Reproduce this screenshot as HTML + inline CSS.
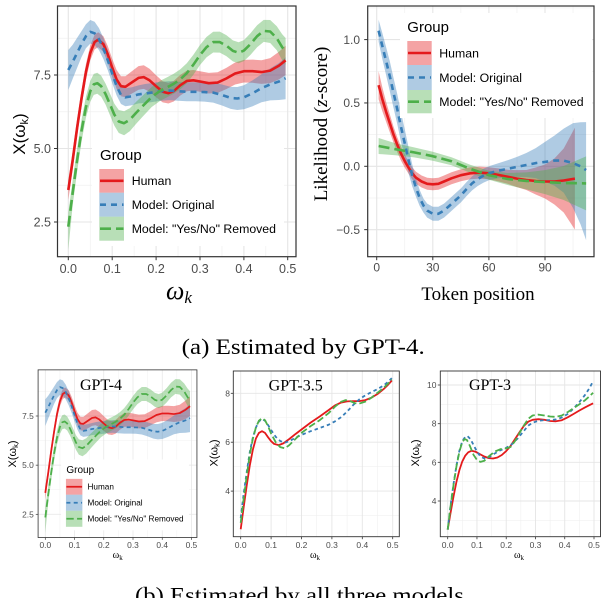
<!DOCTYPE html>
<html><head><meta charset="utf-8"><style>
html,body{margin:0;padding:0;background:#fff;}
svg{display:block;}
.sans{font-family:"Liberation Sans",Arial,sans-serif;}
.serif{font-family:"Liberation Serif","Times New Roman",serif;}
.tk{fill:#4D4D4D;font-family:"Liberation Sans",Arial,sans-serif;}
</style></head><body>
<svg width="602" height="598" viewBox="0 0 602 598" xmlns="http://www.w3.org/2000/svg" xmlns:xlink="http://www.w3.org/1999/xlink">
<rect x="0" y="0" width="602" height="598" fill="#fff"/>

<!-- ============ TOP-LEFT PANEL GRAPHICS ============ -->
<g id="tlg">
  <g stroke="#F0F0F0" stroke-width="0.7" fill="none">
    <line x1="57.5" x2="296" y1="38.25" y2="38.25"/><line x1="57.5" x2="296" y1="111.75" y2="111.75"/><line x1="57.5" x2="296" y1="185.25" y2="185.25"/>
    <line y1="6" y2="256.7" x1="90.25" x2="90.25"/><line y1="6" y2="256.7" x1="134.15" x2="134.15"/><line y1="6" y2="256.7" x1="178.05" x2="178.05"/><line y1="6" y2="256.7" x1="221.95" x2="221.95"/><line y1="6" y2="256.7" x1="265.8" x2="265.8"/>
  </g>
  <g stroke="#E5E5E5" stroke-width="1.1" fill="none">
    <line x1="57.5" x2="296" y1="75" y2="75"/><line x1="57.5" x2="296" y1="148.5" y2="148.5"/><line x1="57.5" x2="296" y1="222" y2="222"/>
    <line y1="6" y2="256.7" x1="68.3" x2="68.3"/><line y1="6" y2="256.7" x1="112.2" x2="112.2"/><line y1="6" y2="256.7" x1="156.1" x2="156.1"/><line y1="6" y2="256.7" x1="200" x2="200"/><line y1="6" y2="256.7" x1="243.9" x2="243.9"/><line y1="6" y2="256.7" x1="287.7" x2="287.7"/>
  </g>
  <polygon fill="#E41A1C" fill-opacity="0.4" points="68.3,180.0 72.7,150.8 77.1,118.9 81.5,90.0 85.9,64.1 90.3,45.4 94.6,34.7 98.2,32.3 103.4,36.3 107.8,46.1 112.2,58.8 116.6,70.0 121.0,76.2 125.4,76.3 132.0,71.1 138.5,66.1 143.8,65.3 149.5,68.8 156.1,75.2 162.7,81.2 168.4,82.9 173.7,80.9 180.2,75.0 186.8,70.6 193.4,70.0 200.0,71.2 208.8,72.9 217.6,72.3 226.3,67.9 235.1,62.5 243.9,59.9 252.7,59.6 261.5,60.3 270.2,58.1 279.0,51.8 285.6,45.6 285.6,75.0 279.0,79.4 270.2,83.1 261.5,83.9 252.7,82.8 243.9,82.5 235.1,84.5 226.3,89.1 217.6,92.9 208.8,93.5 200.0,91.8 193.4,90.6 186.8,91.2 180.2,95.6 173.7,101.5 168.4,103.5 162.7,102.4 156.1,97.2 149.5,91.8 143.8,88.9 138.5,89.7 132.0,93.5 125.4,97.3 121.0,96.2 116.6,88.8 112.2,76.4 107.8,62.7 103.4,51.9 98.2,47.1 94.6,49.5 90.3,60.4 85.9,80.1 81.5,107.0 77.1,136.9 72.7,169.8 68.3,200.0"/>
  <polygon fill="#377EB8" fill-opacity="0.4" points="68.3,50.0 72.7,44.8 77.1,37.9 81.5,31.1 85.9,24.2 90.3,20.0 94.6,21.8 99.0,28.1 103.4,38.0 107.8,50.3 112.2,64.0 116.6,77.0 121.0,86.0 125.4,88.3 132.0,87.2 138.5,85.4 145.1,84.0 151.7,83.1 160.5,81.7 169.3,81.1 178.1,81.7 186.8,82.3 195.6,82.3 204.4,82.6 213.2,82.6 222.0,84.5 230.7,86.9 237.3,87.0 243.9,85.3 252.7,80.2 261.5,74.2 270.2,68.4 279.0,63.0 285.6,57.2 285.6,99.2 279.0,100.0 270.2,100.4 261.5,102.2 252.7,106.2 243.9,109.3 237.3,110.0 230.7,108.9 222.0,105.5 213.2,102.6 204.4,101.6 195.6,101.3 186.8,101.3 178.1,100.7 169.3,100.1 160.5,100.7 151.7,102.1 145.1,103.0 138.5,103.4 132.0,105.2 125.4,106.3 121.0,104.0 116.6,95.4 112.2,83.0 107.8,70.3 103.4,59.0 99.0,50.1 94.6,44.8 90.3,43.6 85.9,48.2 81.5,57.1 77.1,67.9 72.7,78.8 68.3,90.0"/>
  <polygon fill="#4DAF4A" fill-opacity="0.4" points="68.3,212.7 72.7,180.1 77.1,148.8 81.5,119.9 85.9,96.8 90.3,80.7 93.8,73.9 97.3,72.7 101.2,75.7 105.6,83.6 110.0,93.6 114.4,103.7 118.8,110.0 124.1,111.2 129.8,108.2 136.3,101.6 142.9,95.4 151.7,87.0 160.5,80.6 167.1,77.3 173.7,73.8 180.2,69.4 186.8,63.2 193.4,54.7 200.0,45.0 206.6,36.9 213.2,31.7 219.8,31.6 226.3,35.1 232.9,40.4 238.6,42.2 243.9,40.1 250.5,33.3 257.1,25.2 263.7,19.9 270.2,20.0 276.8,26.2 282.1,34.1 285.6,38.0 285.6,65.0 282.1,60.1 276.8,50.2 270.2,43.0 263.7,41.9 257.1,47.2 250.5,54.9 243.9,61.1 238.6,63.2 232.9,61.4 226.3,56.1 219.8,52.6 213.2,52.5 206.6,57.3 200.0,65.0 193.4,74.7 186.8,83.2 180.2,89.4 173.7,93.8 167.1,97.3 160.5,100.6 151.7,107.0 142.9,116.4 136.3,123.6 129.8,131.2 124.1,135.2 118.8,133.0 114.4,125.7 110.0,115.2 105.6,104.6 101.2,96.7 97.3,93.7 93.8,94.9 90.3,101.7 85.9,117.8 81.5,141.9 77.1,171.8 72.7,205.1 68.3,250.0"/>
  <g fill="none" stroke-width="2.6" stroke-linejoin="round">
    <polyline stroke="#E41A1C" points="68.3,190.0 72.7,160.3 77.1,127.9 81.5,98.5 85.9,72.1 90.3,52.9 94.6,42.1 98.2,39.7 103.4,44.1 107.8,54.4 112.2,67.6 116.6,79.4 121.0,86.2 125.4,86.8 132.0,82.3 138.5,77.9 143.8,77.1 149.5,80.3 156.1,86.2 162.7,91.8 168.4,93.2 173.7,91.2 180.2,85.3 186.8,80.9 193.4,80.3 200.0,81.5 208.8,83.2 217.6,82.6 226.3,78.5 235.1,73.5 243.9,71.2 252.7,71.2 261.5,72.1 270.2,70.6 279.0,65.6 285.6,60.3"/>
    <polyline stroke="#377EB8" stroke-dasharray="6 5" points="68.3,70.0 72.7,61.8 77.1,52.9 81.5,44.1 85.9,36.2 90.3,31.8 94.6,33.3 99.0,39.1 103.4,48.5 107.8,60.3 112.2,73.5 116.6,86.2 121.0,95.0 125.4,97.3 132.0,96.2 138.5,94.4 145.1,93.5 151.7,92.6 160.5,91.2 169.3,90.6 178.1,91.2 186.8,91.8 195.6,91.8 204.4,92.1 213.2,92.6 222.0,95.0 230.7,97.9 237.3,98.5 243.9,97.3 252.7,93.2 261.5,88.2 270.2,84.4 279.0,81.5 285.6,78.2"/>
    <polyline stroke="#4DAF4A" stroke-dasharray="11 5" points="68.3,226.7 72.7,192.6 77.1,160.3 81.5,130.9 85.9,107.3 90.3,91.2 93.8,84.4 97.3,83.2 101.2,86.2 105.6,94.1 110.0,104.4 114.4,114.7 118.8,121.5 124.1,123.2 129.8,119.7 136.3,112.6 142.9,105.9 151.7,97.0 160.5,90.6 167.1,87.3 173.7,83.8 180.2,79.4 186.8,73.2 193.4,64.7 200.0,55.0 206.6,47.1 213.2,42.1 219.8,42.1 226.3,45.6 232.9,50.9 238.6,52.7 243.9,50.6 250.5,44.1 257.1,36.2 263.7,30.9 270.2,31.5 276.8,38.2 282.1,47.1 285.6,51.5"/>
  </g>
  <!-- legend -->
  <rect x="92" y="140" width="192" height="106" fill="#fff"/>
  <rect x="99.3" y="169" width="24.7" height="23.7" fill="#E41A1C" fill-opacity="0.4"/>
  <rect x="99.3" y="192.7" width="24.7" height="24" fill="#377EB8" fill-opacity="0.4"/>
  <rect x="99.3" y="216.7" width="24.7" height="24" fill="#4DAF4A" fill-opacity="0.4"/>
  <line x1="100" x2="123.5" y1="180.8" y2="180.8" stroke="#E41A1C" stroke-width="2.6"/>
  <line x1="100" x2="123.5" y1="204.7" y2="204.7" stroke="#377EB8" stroke-width="2.6" stroke-dasharray="6 5"/>
  <line x1="100" x2="123.5" y1="228.7" y2="228.7" stroke="#4DAF4A" stroke-width="2.6" stroke-dasharray="11 5"/>
  <!-- ticks -->
  <g stroke="#333" stroke-width="1">
    <line x1="54" x2="57.5" y1="75" y2="75"/><line x1="54" x2="57.5" y1="148.5" y2="148.5"/><line x1="54" x2="57.5" y1="222" y2="222"/>
    <line y1="256.7" y2="260.2" x1="68.3" x2="68.3"/><line y1="256.7" y2="260.2" x1="112.2" x2="112.2"/><line y1="256.7" y2="260.2" x1="156.1" x2="156.1"/><line y1="256.7" y2="260.2" x1="200" x2="200"/><line y1="256.7" y2="260.2" x1="243.9" x2="243.9"/><line y1="256.7" y2="260.2" x1="287.7" x2="287.7"/>
  </g>
  <rect x="57.5" y="6" width="238.5" height="250.7" fill="none" stroke="#333" stroke-width="1.2"/>
</g>

<!-- top-left text -->
<g class="tk" font-size="12.5">
  <text x="51" y="79.5" text-anchor="end">7.5</text>
  <text x="51" y="153" text-anchor="end">5.0</text>
  <text x="51" y="226.5" text-anchor="end">2.5</text>
  <text x="68.3" y="273" text-anchor="middle">0.0</text>
  <text x="112.2" y="273" text-anchor="middle">0.1</text>
  <text x="156.1" y="273" text-anchor="middle">0.2</text>
  <text x="200" y="273" text-anchor="middle">0.3</text>
  <text x="243.9" y="273" text-anchor="middle">0.4</text>
  <text x="287.7" y="273" text-anchor="middle">0.5</text>
</g>
<g class="sans" fill="#000">
  <text x="100" y="160" font-size="15">Group</text>
  <text x="131.7" y="185.1" font-size="12.3">Human</text>
  <text x="131.7" y="209" font-size="12.3">Model: Original</text>
  <text x="131.7" y="233" font-size="12.3">Model: "Yes/No" Removed</text>
</g>
<text class="sans" transform="translate(25,134) rotate(-90)" text-anchor="middle" font-size="17">X(ω<tspan font-size="11" dy="3">k</tspan><tspan dy="-3">)</tspan></text>
<text class="serif" x="166" y="299" font-size="26" font-style="italic">ω<tspan font-size="17" dy="4">k</tspan></text>

<!-- ============ TOP-RIGHT PANEL ============ -->
<g stroke="#F0F0F0" stroke-width="0.7" fill="none">
  <line x1="367.7" x2="594" y1="7.9" y2="7.9"/><line x1="367.7" x2="594" y1="71.3" y2="71.3"/><line x1="367.7" x2="594" y1="134.6" y2="134.6"/><line x1="367.7" x2="594" y1="198" y2="198"/>
  <line y1="6" y2="256.7" x1="404.75" x2="404.75"/><line y1="6" y2="256.7" x1="460.85" x2="460.85"/><line y1="6" y2="256.7" x1="516.95" x2="516.95"/><line y1="6" y2="256.7" x1="573.05" x2="573.05"/>
</g>
<g stroke="#E5E5E5" stroke-width="1.1" fill="none">
  <line x1="367.7" x2="594" y1="39.6" y2="39.6"/><line x1="367.7" x2="594" y1="102.95" y2="102.95"/><line x1="367.7" x2="594" y1="166.3" y2="166.3"/><line x1="367.7" x2="594" y1="229.65" y2="229.65"/>
  <line y1="6" y2="256.7" x1="376.7" x2="376.7"/><line y1="6" y2="256.7" x1="432.8" x2="432.8"/><line y1="6" y2="256.7" x1="488.9" x2="488.9"/><line y1="6" y2="256.7" x1="545" x2="545"/>
</g>
<polygon fill="#E41A1C" fill-opacity="0.4" points="378.6,71.2 382.3,87.1 386.1,101.8 389.8,114.2 393.5,126.6 397.3,137.3 401.0,146.6 404.8,154.7 408.5,161.6 412.2,167.3 416.0,171.7 421.6,175.5 427.2,177.8 432.8,178.3 438.4,177.8 444.0,175.5 451.5,172.3 460.9,169.2 470.2,167.3 479.6,166.6 488.9,167.3 498.3,168.4 507.6,169.8 517.0,170.1 526.3,170.0 535.7,167.5 545.0,164.5 554.4,158.5 563.7,148.5 574.9,127.6 574.9,229.6 563.7,212.5 554.4,204.5 545.0,198.5 535.7,194.5 526.3,190.0 517.0,187.1 507.6,183.8 498.3,181.4 488.9,179.3 479.6,178.6 470.2,179.3 460.9,181.2 451.5,184.3 444.0,187.5 438.4,189.8 432.8,190.3 427.2,189.8 421.6,187.5 416.0,183.7 412.2,179.3 408.5,173.6 404.8,167.7 401.0,160.6 397.3,152.3 393.5,142.6 389.8,132.2 386.1,121.8 382.3,111.1 378.6,99.2"/>
<polygon fill="#377EB8" fill-opacity="0.4" points="378.6,19.7 382.3,32.9 386.1,47.1 389.8,61.3 393.5,77.8 397.3,94.3 401.0,112.0 404.8,129.5 408.5,147.0 412.2,164.2 416.0,178.8 419.7,190.0 423.5,198.6 427.2,203.6 432.8,206.8 438.4,206.8 444.0,203.6 449.6,198.6 455.2,193.5 460.9,188.4 466.5,182.1 472.1,176.4 477.7,172.0 483.3,168.8 488.9,166.3 498.3,163.2 507.6,160.3 517.0,156.9 526.3,153.0 535.7,148.1 545.0,141.9 554.4,135.6 563.7,128.6 573.1,123.1 580.5,122.3 586.1,122.1 586.1,240.1 580.5,224.3 573.1,208.1 563.7,192.6 554.4,185.6 545.0,181.9 535.7,178.1 526.3,177.0 517.0,176.9 507.6,177.3 498.3,178.2 488.9,180.3 483.3,182.8 477.7,186.0 472.1,190.4 466.5,196.1 460.9,202.4 455.2,207.5 449.6,212.6 444.0,217.6 438.4,220.8 432.8,220.8 427.2,217.6 423.5,212.6 419.7,206.0 416.0,196.8 412.2,186.2 408.5,173.0 404.8,157.5 401.0,142.0 397.3,124.3 393.5,107.8 389.8,91.3 386.1,75.1 382.3,58.9 378.6,41.7"/>
<polygon fill="#4DAF4A" fill-opacity="0.4" points="378.6,138.0 395.4,143.2 414.1,147.4 432.8,151.7 451.5,157.2 470.2,164.8 488.9,170.7 507.6,173.0 526.3,172.4 545.0,170.1 563.7,166.0 586.1,156.4 586.1,210.4 563.7,200.0 545.0,194.1 526.3,189.4 507.6,185.0 488.9,179.7 470.2,172.8 451.5,165.2 432.8,160.7 414.1,157.4 395.4,155.2 378.6,154.0"/>
<g fill="none" stroke-width="2.6" stroke-linejoin="round">
  <polyline stroke="#E41A1C" points="378.6,85.2 382.3,99.1 386.1,111.8 389.8,123.2 393.5,134.6 397.3,144.8 401.0,153.6 404.8,161.2 408.5,167.6 412.2,173.3 416.0,177.7 421.6,181.5 427.2,183.8 432.8,184.3 438.4,183.8 444.0,181.5 451.5,178.3 460.9,175.2 470.2,173.3 479.6,172.6 488.9,173.3 498.3,174.9 507.6,176.8 517.0,178.6 526.3,180.0 535.7,181.0 545.0,181.5 554.4,181.5 563.7,180.5 574.9,178.6"/>
  <polyline stroke="#377EB8" stroke-dasharray="6 5" points="378.6,30.7 382.3,45.9 386.1,61.1 389.8,76.3 393.5,92.8 397.3,109.3 401.0,127.0 404.8,143.5 408.5,160.0 412.2,175.2 416.0,187.8 419.7,198.0 423.5,205.6 427.2,210.6 432.8,213.8 438.4,213.8 444.0,210.6 449.6,205.6 455.2,200.5 460.9,195.4 466.5,189.1 472.1,183.4 477.7,179.0 483.3,175.8 488.9,173.3 498.3,170.7 507.6,168.8 517.0,166.9 526.3,165.0 535.7,163.1 545.0,161.9 554.4,160.6 563.7,160.6 573.1,163.1 580.5,166.3 586.1,170.1"/>
  <polyline stroke="#4DAF4A" stroke-dasharray="11 5" points="378.6,146.0 395.4,149.2 414.1,152.4 432.8,156.2 451.5,161.2 470.2,168.8 488.9,175.2 507.6,179.0 526.3,180.9 545.0,182.1 563.7,183.0 586.1,183.4"/>
</g>
<rect x="400" y="13" width="192" height="105" fill="#fff"/>
<rect x="407.3" y="41" width="24.4" height="24" fill="#E41A1C" fill-opacity="0.4"/>
<rect x="407.3" y="65" width="24.4" height="25" fill="#377EB8" fill-opacity="0.4"/>
<rect x="407.3" y="90" width="24.4" height="23.3" fill="#4DAF4A" fill-opacity="0.4"/>
<line x1="408" x2="431" y1="53" y2="53" stroke="#E41A1C" stroke-width="2.6"/>
<line x1="408" x2="431" y1="77.5" y2="77.5" stroke="#377EB8" stroke-width="2.6" stroke-dasharray="6 5"/>
<line x1="408" x2="431" y1="101.7" y2="101.7" stroke="#4DAF4A" stroke-width="2.6" stroke-dasharray="11 5"/>
<g stroke="#333" stroke-width="1">
  <line x1="364.2" x2="367.7" y1="39.6" y2="39.6"/><line x1="364.2" x2="367.7" y1="102.95" y2="102.95"/><line x1="364.2" x2="367.7" y1="166.3" y2="166.3"/><line x1="364.2" x2="367.7" y1="229.65" y2="229.65"/>
  <line y1="256.7" y2="260.2" x1="376.7" x2="376.7"/><line y1="256.7" y2="260.2" x1="432.8" x2="432.8"/><line y1="256.7" y2="260.2" x1="488.9" x2="488.9"/><line y1="256.7" y2="260.2" x1="545" x2="545"/>
</g>
<rect x="367.7" y="6" width="226.3" height="250.7" fill="none" stroke="#333" stroke-width="1.2"/>
<g class="tk" font-size="12">
  <text x="360" y="43.8" text-anchor="end">1.0</text>
  <text x="360" y="107.2" text-anchor="end">0.5</text>
  <text x="360" y="170.5" text-anchor="end">0.0</text>
  <text x="360" y="233.9" text-anchor="end">−0.5</text>
  <text x="376.7" y="271.5" text-anchor="middle">0</text>
  <text x="432.8" y="271.5" text-anchor="middle">30</text>
  <text x="488.9" y="271.5" text-anchor="middle">60</text>
  <text x="545" y="271.5" text-anchor="middle">90</text>
</g>
<g class="sans" fill="#000">
  <text x="407.3" y="32" font-size="15">Group</text>
  <text x="439.3" y="57.3" font-size="12.3">Human</text>
  <text x="439.3" y="81.8" font-size="12.3">Model: Original</text>
  <text x="439.3" y="106" font-size="12.3">Model: "Yes/No" Removed</text>
</g>
<text class="serif" transform="translate(327,124) rotate(-90)" text-anchor="middle" font-size="19">Likelihood (<tspan font-style="italic">z</tspan>-score)</text>
<text class="serif" x="478" y="300" text-anchor="middle" font-size="19">Token position</text>

<!-- caption a -->
<text class="serif" x="181.7" y="354" font-size="22" textLength="243" lengthAdjust="spacingAndGlyphs">(a) Estimated by GPT-4.</text>

<!-- ============ BOTTOM-LEFT (scaled copy) ============ -->
<use xlink:href="#tlg" href="#tlg" transform="matrix(0.666 0 0 0.6687 -0.2 365.85)"/>
<g class="tk" font-size="8.4">
  <text x="33.8" y="419" text-anchor="end">7.5</text>
  <text x="33.8" y="468.2" text-anchor="end">5.0</text>
  <text x="33.8" y="517.3" text-anchor="end">2.5</text>
  <text x="45.3" y="548" text-anchor="middle">0.0</text>
  <text x="74.5" y="548" text-anchor="middle">0.1</text>
  <text x="103.8" y="548" text-anchor="middle">0.2</text>
  <text x="133" y="548" text-anchor="middle">0.3</text>
  <text x="162.2" y="548" text-anchor="middle">0.4</text>
  <text x="191.4" y="548" text-anchor="middle">0.5</text>
</g>
<g class="sans" fill="#000">
  <text x="66.4" y="472.8" font-size="10">Group</text>
  <text x="87.5" y="489.6" font-size="8.2">Human</text>
  <text x="87.5" y="505.6" font-size="8.2">Model: Original</text>
  <text x="87.5" y="521.7" font-size="8.2">Model: "Yes/No" Removed</text>
</g>
<text class="serif" x="101" y="390" text-anchor="middle" font-size="16">GPT-4</text>
<text class="sans" transform="translate(16,454) rotate(-90)" text-anchor="middle" font-size="11">X(ω<tspan font-size="7.5" dy="2">k</tspan><tspan dy="-2">)</tspan></text>
<text class="serif" x="117.7" y="558" text-anchor="middle" font-size="10">ω<tspan font-size="7" dy="2">k</tspan></text>

<!-- ============ BOTTOM-MIDDLE (GPT-3.5) ============ -->
<g stroke="#F0F0F0" stroke-width="0.6" fill="none">
  <line x1="233.3" x2="399.3" y1="515.55" y2="515.55"/><line x1="233.3" x2="399.3" y1="466.65" y2="466.65"/><line x1="233.3" x2="399.3" y1="417.75" y2="417.75"/>
  <line y1="371" y2="536.7" x1="255.9" x2="255.9"/><line y1="371" y2="536.7" x1="286.3" x2="286.3"/><line y1="371" y2="536.7" x1="316.7" x2="316.7"/><line y1="371" y2="536.7" x1="347.1" x2="347.1"/><line y1="371" y2="536.7" x1="377.5" x2="377.5"/>
</g>
<g stroke="#E5E5E5" stroke-width="0.9" fill="none">
  <line x1="233.3" x2="399.3" y1="491.1" y2="491.1"/><line x1="233.3" x2="399.3" y1="442.2" y2="442.2"/><line x1="233.3" x2="399.3" y1="393.3" y2="393.3"/>
  <line y1="371" y2="536.7" x1="240.7" x2="240.7"/><line y1="371" y2="536.7" x1="271.1" x2="271.1"/><line y1="371" y2="536.7" x1="301.5" x2="301.5"/><line y1="371" y2="536.7" x1="331.9" x2="331.9"/><line y1="371" y2="536.7" x1="362.3" x2="362.3"/><line y1="371" y2="536.7" x1="392.7" x2="392.7"/>
</g>
<g fill="none" stroke-width="1.8" stroke-linejoin="round">
  <polyline stroke="#E41A1C" points="240.7,529.2 243.7,507.0 246.8,485.0 249.8,465.4 252.9,449.5 255.9,438.5 258.9,432.9 262.0,431.2 265.0,432.9 268.1,437.3 271.1,441.2 274.1,443.9 278.7,445.1 283.3,443.4 289.3,439.0 295.4,434.1 301.5,429.5 310.6,422.6 319.7,416.5 328.9,409.9 334.9,405.5 341.0,402.6 347.1,401.4 353.2,401.1 359.3,401.1 365.3,400.1 371.4,397.7 377.5,394.0 383.6,389.1 388.1,384.7 391.8,380.6"/>
  <polyline stroke="#377EB8" stroke-dasharray="3.5 3" points="240.7,518.0 243.7,493.5 246.8,471.5 249.8,452.0 252.9,437.3 255.9,427.5 258.9,421.4 262.0,419.0 265.0,420.7 268.1,425.1 271.1,430.0 275.7,436.8 280.2,441.0 284.8,442.7 289.3,441.2 295.4,437.8 301.5,434.9 310.6,431.2 319.7,428.0 328.9,424.6 334.9,421.4 341.0,417.3 347.1,411.6 353.2,405.0 359.3,399.4 365.3,395.3 371.4,392.1 377.5,389.1 383.6,385.5 388.1,381.8 391.8,378.1"/>
  <polyline stroke="#4DAF4A" stroke-dasharray="7 3" points="240.7,522.9 243.7,498.4 246.8,475.2 249.8,454.4 252.9,438.5 255.9,427.5 258.9,420.7 262.0,418.2 265.0,420.2 268.1,426.3 271.1,433.6 275.7,442.2 280.2,447.1 284.8,448.3 289.3,445.1 295.4,439.0 301.5,432.9 310.6,426.1 319.7,420.2 328.9,412.9 334.9,406.7 341.0,401.9 345.6,400.1 350.1,401.1 354.7,403.1 359.3,403.6 365.3,401.6 371.4,397.7 377.5,392.8 383.6,387.9 388.1,383.5 391.8,379.6"/>
</g>
<g stroke="#333" stroke-width="0.8">
  <line x1="230.8" x2="233.3" y1="491.1" y2="491.1"/><line x1="230.8" x2="233.3" y1="442.2" y2="442.2"/><line x1="230.8" x2="233.3" y1="393.3" y2="393.3"/>
  <line y1="536.7" y2="539.2" x1="240.7" x2="240.7"/><line y1="536.7" y2="539.2" x1="271.1" x2="271.1"/><line y1="536.7" y2="539.2" x1="301.5" x2="301.5"/><line y1="536.7" y2="539.2" x1="331.9" x2="331.9"/><line y1="536.7" y2="539.2" x1="362.3" x2="362.3"/><line y1="536.7" y2="539.2" x1="392.7" x2="392.7"/>
</g>
<rect x="233.3" y="371" width="166" height="165.7" fill="none" stroke="#333" stroke-width="0.9"/>
<g class="tk" font-size="8.5">
  <text x="230" y="396.3" text-anchor="end">8</text>
  <text x="230" y="445.2" text-anchor="end">6</text>
  <text x="230" y="494.1" text-anchor="end">4</text>
  <text x="240.7" y="548" text-anchor="middle">0.0</text>
  <text x="271.1" y="548" text-anchor="middle">0.1</text>
  <text x="301.5" y="548" text-anchor="middle">0.2</text>
  <text x="331.9" y="548" text-anchor="middle">0.3</text>
  <text x="362.3" y="548" text-anchor="middle">0.4</text>
  <text x="392.7" y="548" text-anchor="middle">0.5</text>
</g>
<text class="serif" x="295.7" y="390.3" text-anchor="middle" font-size="16">GPT-3.5</text>
<text class="sans" transform="translate(217.5,453) rotate(-90)" text-anchor="middle" font-size="11">X(ω<tspan font-size="7.5" dy="2">k</tspan><tspan dy="-2">)</tspan></text>
<text class="serif" x="315" y="558" text-anchor="middle" font-size="10">ω<tspan font-size="7" dy="2">k</tspan></text>

<!-- ============ BOTTOM-RIGHT (GPT-3) ============ -->
<g stroke="#F0F0F0" stroke-width="0.6" fill="none">
  <line x1="440.3" x2="600.5" y1="520.3" y2="520.3"/><line x1="440.3" x2="600.5" y1="481.65" y2="481.65"/><line x1="440.3" x2="600.5" y1="443" y2="443"/><line x1="440.3" x2="600.5" y1="404.3" y2="404.3"/>
  <line y1="371" y2="536.7" x1="462.33" x2="462.33"/><line y1="371" y2="536.7" x1="491.59" x2="491.59"/><line y1="371" y2="536.7" x1="520.85" x2="520.85"/><line y1="371" y2="536.7" x1="550.11" x2="550.11"/><line y1="371" y2="536.7" x1="579.37" x2="579.37"/>
</g>
<g stroke="#E5E5E5" stroke-width="0.9" fill="none">
  <line x1="440.3" x2="600.5" y1="501" y2="501"/><line x1="440.3" x2="600.5" y1="462.3" y2="462.3"/><line x1="440.3" x2="600.5" y1="423.7" y2="423.7"/><line x1="440.3" x2="600.5" y1="385" y2="385"/>
  <line y1="371" y2="536.7" x1="447.7" x2="447.7"/><line y1="371" y2="536.7" x1="476.96" x2="476.96"/><line y1="371" y2="536.7" x1="506.22" x2="506.22"/><line y1="371" y2="536.7" x1="535.48" x2="535.48"/><line y1="371" y2="536.7" x1="564.74" x2="564.74"/><line y1="371" y2="536.7" x1="594" x2="594"/>
</g>
<g fill="none" stroke-width="1.8" stroke-linejoin="round">
  <polyline stroke="#E41A1C" points="447.7,529.6 450.6,512.6 453.6,496.1 456.5,481.6 459.4,470.1 462.3,461.4 465.3,455.6 468.2,452.3 471.7,450.7 475.5,451.7 479.9,454.2 484.3,456.5 488.7,458.1 493.1,458.5 497.4,457.5 501.8,455.0 506.2,451.1 510.6,445.9 515.0,439.1 519.4,432.4 523.8,426.0 528.2,421.7 532.6,419.8 538.4,419.2 544.3,419.8 550.1,421.0 556.0,421.3 561.8,420.2 567.7,417.3 573.5,414.0 579.4,410.5 585.2,407.3 589.6,405.1 593.1,403.3"/>
  <polyline stroke="#377EB8" stroke-dasharray="3.5 3" points="447.7,529.6 450.6,504.8 453.6,483.6 456.5,465.2 459.4,450.7 462.3,441.1 465.3,436.8 467.6,436.2 470.5,439.1 474.0,445.9 477.0,451.7 480.5,456.5 484.3,458.5 488.7,457.5 494.5,453.6 500.4,450.3 506.2,447.8 512.1,444.0 517.9,438.2 523.8,431.0 528.2,425.6 532.6,422.7 538.4,420.8 544.3,420.2 550.1,420.2 556.0,419.4 561.8,417.5 567.7,414.0 573.5,408.6 579.4,402.0 585.2,394.7 589.6,387.9 593.1,381.1"/>
  <polyline stroke="#4DAF4A" stroke-dasharray="7 3" points="447.7,529.6 450.6,505.8 453.6,484.5 456.5,466.2 459.4,451.7 462.3,442.0 464.7,439.1 467.0,440.1 469.9,445.9 473.4,454.6 477.0,460.0 480.5,461.9 484.3,460.8 488.7,456.5 494.5,451.7 500.4,449.2 506.2,448.4 510.6,446.9 515.0,441.1 519.4,433.3 523.8,425.6 528.2,418.8 532.6,415.5 538.4,414.6 544.3,415.5 550.1,416.5 556.0,416.9 561.8,415.5 567.7,412.1 573.5,408.2 579.4,404.3 585.2,400.1 589.6,396.2 593.1,392.7"/>
</g>
<g stroke="#333" stroke-width="0.8">
  <line x1="437.8" x2="440.3" y1="501" y2="501"/><line x1="437.8" x2="440.3" y1="462.3" y2="462.3"/><line x1="437.8" x2="440.3" y1="423.7" y2="423.7"/><line x1="437.8" x2="440.3" y1="385" y2="385"/>
  <line y1="536.7" y2="539.2" x1="447.7" x2="447.7"/><line y1="536.7" y2="539.2" x1="476.96" x2="476.96"/><line y1="536.7" y2="539.2" x1="506.22" x2="506.22"/><line y1="536.7" y2="539.2" x1="535.48" x2="535.48"/><line y1="536.7" y2="539.2" x1="564.74" x2="564.74"/><line y1="536.7" y2="539.2" x1="594" x2="594"/>
</g>
<rect x="440.3" y="371" width="160.2" height="165.7" fill="none" stroke="#333" stroke-width="0.9"/>
<g class="tk" font-size="8.5">
  <text x="436.5" y="388" text-anchor="end">10</text>
  <text x="436.5" y="426.7" text-anchor="end">8</text>
  <text x="436.5" y="465.3" text-anchor="end">6</text>
  <text x="436.5" y="504" text-anchor="end">4</text>
  <text x="447.7" y="548" text-anchor="middle">0.0</text>
  <text x="477" y="548" text-anchor="middle">0.1</text>
  <text x="506.2" y="548" text-anchor="middle">0.2</text>
  <text x="535.5" y="548" text-anchor="middle">0.3</text>
  <text x="564.7" y="548" text-anchor="middle">0.4</text>
  <text x="594" y="548" text-anchor="middle">0.5</text>
</g>
<text class="serif" x="490" y="390" text-anchor="middle" font-size="16">GPT-3</text>
<text class="sans" transform="translate(419,453) rotate(-90)" text-anchor="middle" font-size="11">X(ω<tspan font-size="7.5" dy="2">k</tspan><tspan dy="-2">)</tspan></text>
<text class="serif" x="519" y="558" text-anchor="middle" font-size="10">ω<tspan font-size="7" dy="2">k</tspan></text>

<!-- caption b -->
<text class="serif" x="135" y="602.5" font-size="22" textLength="335" lengthAdjust="spacingAndGlyphs">(b) Estimated by all three models.</text>
</svg>
</body></html>
